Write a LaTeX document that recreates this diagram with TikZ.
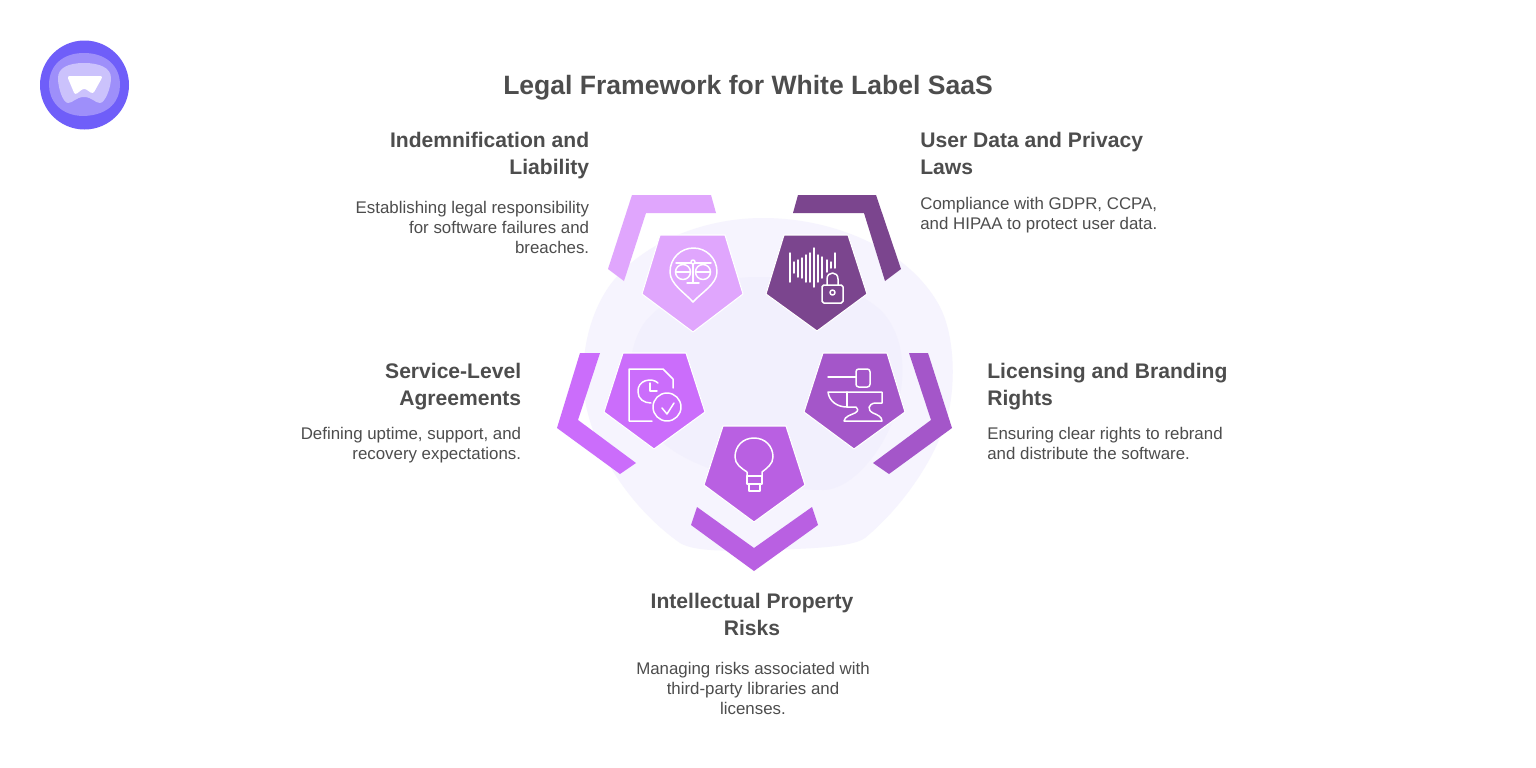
\documentclass[tikz,border=0pt]{standalone}
\usepackage{fontspec}
\setmainfont{Liberation Sans}
\definecolor{inktext}{HTML}{4D4D4D}
\definecolor{blobout}{HTML}{F6F4FE}
\definecolor{blobin}{HTML}{F2F0FD}
\definecolor{logoa}{HTML}{6F5EF9}
\definecolor{logob}{HTML}{9E8FFA}
\definecolor{logoc}{HTML}{CBC2FC}
\definecolor{liab}{HTML}{E0A6FD}
\definecolor{priv}{HTML}{7B458E}
\definecolor{slev}{HTML}{CB6DFB}
\definecolor{lic}{HTML}{A456C9}
\definecolor{risk}{HTML}{B960E2}
\begin{document}
\begin{tikzpicture}[x=0.02cm,y=-0.02cm]
\tikzstyle{titletext}=[text=inktext,font=\bfseries\fontsize{15.1}{18}\selectfont,inner sep=0pt]
\tikzstyle{heading}=[text=inktext,font=\bfseries\fontsize{12}{15.4}\selectfont,inner sep=0pt]
\tikzstyle{body}=[text=inktext,font=\fontsize{9.6}{11.4}\selectfont,inner sep=0pt]
\tikzstyle{penta}=[draw=white,line width=0.6pt,line join=round]
\tikzstyle{icon}=[draw=white,line width=0.85pt,line join=round,line cap=round]
\useasboundingbox (0,0) rectangle (1536,768);
\fill[white] (0,0) rectangle (1536,768);
% logo
\fill[logoa] (84.5,85) circle (44.5);
\fill[logob] (84,53) .. controls (105,53) and (120,65) .. (120,85) .. controls (120,100) and (110,115) .. (84,116) .. controls (60,116) and (49,100) .. (49,85) .. controls (49,65) and (63,53) .. (84,53) -- cycle;
\fill[logoc] (84,63) .. controls (100,63) and (111,68) .. (111,78) .. controls (111,88) and (105,103) .. (100,103) .. controls (95,103) and (92,97) .. (84,97) .. controls (76,97) and (73,103) .. (68,103) .. controls (63,103) and (58,88) .. (58,78) .. controls (58,68) and (68,63) .. (84,63) -- cycle;
\fill[white,rounded corners=1.5pt] (67,76) -- (103,76) -- (93,94) -- (84,88) -- (75,95) -- cycle;
% backdrop
\fill[blobout] (763,218) .. controls (835,218) and (910,250) .. (940,307) .. controls (952,330) and (956,370) .. (950,405) .. controls (942,450) and (905,505) .. (865,538) .. controls (850,549) and (790,549) .. (760,550) .. controls (730,551) and (695,552) .. (680,543) .. controls (640,515) and (600,465) .. (587,410) .. controls (578,370) and (585,320) .. (610,285) .. controls (640,245) and (700,218) .. (763,218) -- cycle;
\fill[blobin] (757,277) .. controls (800,277) and (860,285) .. (885,315) .. controls (905,340) and (908,380) .. (893,420) .. controls (880,455) and (850,490) .. (823,490) .. controls (770,490) and (690,470) .. (660,440) .. controls (630,410) and (622,365) .. (640,330) .. controls (655,300) and (710,277) .. (757,277) -- cycle;
% outer brackets
\fill[liab] (632,195) -- (711,195) -- (716,213) -- (646,213) -- (624,281) -- (608,269) -- cycle;
\fill[priv] (798,195) -- (876,195) -- (901,269) -- (885,281) -- (864,213) -- (793,213) -- cycle;
\fill[slev] (580,353) -- (600,353) -- (578,420) -- (636,463) -- (620,474) -- (557,428) -- cycle;
\fill[lic] (909,353) -- (928,353) -- (952,428) -- (889,474) -- (873,463) -- (931,420) -- cycle;
\fill[risk] (697,507) -- (754,548) -- (812,507) -- (818,525) -- (754,571) -- (691,525) -- cycle;
% pentagons
\draw[penta,fill=liab] (660,235) -- (725,235) -- (743,294) -- (693,332) -- (642,294) -- cycle;
\draw[penta,fill=priv] (784,235) -- (848,235) -- (867,294) -- (817,331) -- (766,294) -- cycle;
\draw[penta,fill=slev] (623,353) -- (686,353) -- (705,412) -- (654,449) -- (604,412) -- cycle;
\draw[penta,fill=lic] (823,353) -- (887,353) -- (905,412) -- (854,449) -- (804,412) -- cycle;
\draw[penta,fill=risk] (723,426) -- (786,426) -- (805,485) -- (754,522) -- (704,485) -- cycle;
% scales
\draw[icon] (693,302) .. controls (685,293) and (670,284) .. (670,272) .. controls (670,258) and (681,248) .. (693.5,248) .. controls (706,248) and (717,258) .. (717,272) .. controls (717,284) and (701,293) .. (693,302) -- cycle;
\draw[icon] (693,264) -- (693,283) (687,283) -- (699,283) (676,263) -- (691,263) (695,263) -- (711,263);
\draw[icon] (693,262) circle (2);
\draw[icon] (683,272) circle (7.5);
\draw[icon] (703,272) circle (7.5);
\draw[icon] (675.5,272) -- (690.5,272) (695.5,272) -- (710.5,272) (683,263) -- (683,264.5) (703,263) -- (703,264.5);
% sound and lock
\draw[icon] (790,253) -- (790,282) (794,262) -- (794,273) (798,260) -- (798,277) (802,258) -- (802,278) (806,255) -- (806,282) (810,253) -- (810,282) (814,248) -- (814,287) (818,255) -- (818,282) (822,257) -- (822,278) (827,260) -- (827,272) (831,262) -- (831,268) (835,253) -- (835,268);
\draw[icon,rounded corners=1pt] (822,285) rectangle (843,303);
\draw[icon] (827,285) -- (827,279) .. controls (827,271) and (838,271) .. (838,279) -- (838,285);
\draw[icon] (832.5,292.5) circle (2.5);
% document and clock
\draw[icon] (673,388) -- (673,379) -- (663,369) -- (629,369) -- (629,421) -- (652,421);
\draw[icon] (658,383) .. controls (652,377) and (637,380) .. (638,392) .. controls (638,399) and (644,403) .. (651,403);
\draw[icon] (650,383) -- (650,391) -- (657,391);
\draw[icon] (667,407) circle (14);
\draw[icon] (662,408) -- (667,414) -- (674,403);
% hammer and anvil
\draw[icon] (828,377) -- (856,377);
\draw[icon,rounded corners=1.5pt] (856,369) rectangle (870,387);
\draw[icon] (847,392) -- (847,407);
\draw[icon] (847,407) .. controls (837,407) and (829,401) .. (828,392) -- (882,392) -- (882,403) -- (875,403) .. controls (868,404) and (867,410) .. (873,413) .. controls (878,415) and (882,417) .. (882,421) -- (844,421) .. controls (845,416) and (851,415) .. (855,413) .. controls (859,411) and (858,408) .. (856,407) -- cycle;
% bulb
\draw[icon] (747,476) -- (747,472) .. controls (741,468) and (735,464) .. (735,457) .. controls (735,446) and (743,438) .. (754,438) .. controls (765,438) and (773,446) .. (773,457) .. controls (773,464) and (767,468) .. (762,472) -- (762,476);
\draw[icon] (747,476) rectangle (762,484);
\draw[icon] (749,484) rectangle (760,491);
% labels
\node[titletext] (title) at (748,87.5) {Legal Framework for White Label SaaS};
\node[heading,anchor=east,align=right] (liabhead) at (589.5,155.5) {Indemnification and\\Liability};
\node[body,anchor=east,align=right] (liabbody) at (589.5,227) {Establishing legal responsibility\\for software failures and\\breaches.};
\node[heading,anchor=west,align=left] (privhead) at (920,153) {User Data and Privacy\\Laws};
\node[body,anchor=west,align=left] (privbody) at (920,215) {Compliance with GDPR, CCPA,\\and HIPAA to protect user data.};
\node[heading,anchor=east,align=right] (slevhead) at (521.5,387) {Service-Level\\Agreements};
\node[body,anchor=east,align=right] (slevbody) at (521.5,445) {Defining uptime, support, and\\recovery expectations.};
\node[heading,anchor=west,align=left] (lichead) at (987,387) {Licensing and Branding\\Rights};
\node[body,anchor=west,align=left] (licbody) at (987,443) {Ensuring clear rights to rebrand\\and distribute the software.};
\node[heading,align=center] (riskhead) at (752,614) {Intellectual Property\\Risks};
\node[body,align=center] (riskbody) at (753,688) {Managing risks associated with\\third-party libraries and\\licenses.};
\end{tikzpicture}
\end{document}
